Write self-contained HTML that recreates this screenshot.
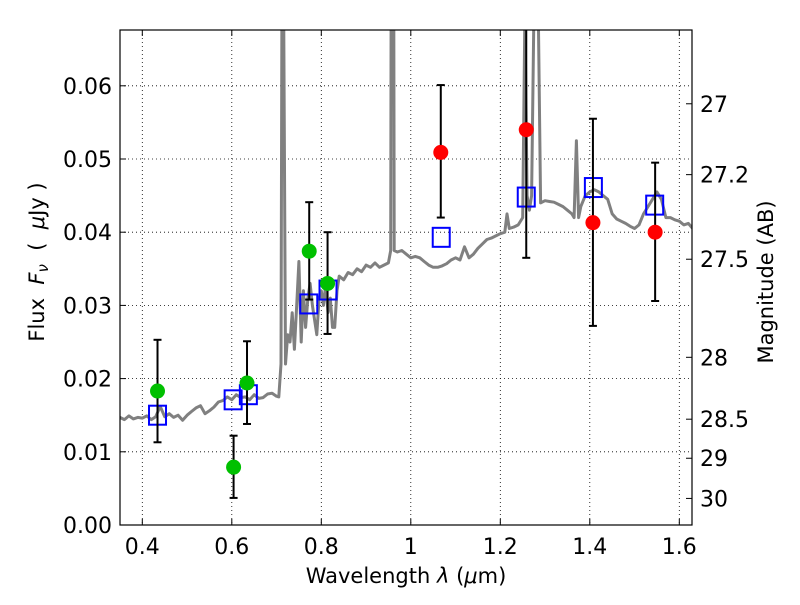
<!DOCTYPE html>
<html><head><meta charset="utf-8"><style>
body{margin:0;background:#fff;}
svg text{font-family:"DejaVu Sans","Liberation Sans",sans-serif;}
</style></head><body>
<svg id="chart" width="800" height="600" viewBox="0 0 800 600" xmlns="http://www.w3.org/2000/svg">
<defs><clipPath id="clip"><rect x="120" y="30" width="572" height="495"/></clipPath></defs>
<rect width="800" height="600" fill="#fff"/>
<g id="grid"></g>
<g id="spec" clip-path="url(#clip)"></g>
<g id="marks" clip-path="url(#clip)"></g>
<rect x="120" y="30" width="572" height="495" fill="none" stroke="#000" stroke-width="1.2"/>
<g id="axes"></g>
<text x="406" y="583" font-size="21" text-anchor="middle">Wavelength  <tspan font-style="italic">λ</tspan> (<tspan font-style="italic">μ</tspan>m)</text>
<text transform="translate(44,262) rotate(-90)" font-size="21" text-anchor="middle" xml:space="preserve">Flux  <tspan font-style="italic">F<tspan font-size="15" dy="4">ν</tspan></tspan><tspan dy="-4">  (  </tspan><tspan font-style="italic">μ</tspan>Jy )</text>
<text transform="translate(773,282) rotate(-90)" font-size="21" text-anchor="middle">Magnitude (AB)</text>
</svg>
<script>
const xTicks=[0.4,0.6,0.8,1.0,1.2,1.4,1.6];
const xTickLabels=["0.4","0.6","0.8","1","1.2","1.4","1.6"];
const yTicks=[0,0.01,0.02,0.03,0.04,0.05,0.06];
const yTickLabels=["0.00","0.01","0.02","0.03","0.04","0.05","0.06"];
const magTicks=[27,27.2,27.5,28,28.5,29,30];
const magTickLabels=["27","27.2","27.5","28","28.5","29","30"];
const greenX=[0.434,0.604,0.634,0.773,0.814];
const greenY=[0.0183,0.0079,0.0194,0.0374,0.0330];
const greenHi=[0.0253,0.0122,0.0251,0.0441,0.0400];
const greenLo=[0.0113,0.0037,0.0138,0.0308,0.0261];
const redX=[1.067,1.258,1.407,1.546];
const redY=[0.0509,0.0540,0.0413,0.0400];
const redHi=[0.0601,0.0700,0.0555,0.0495];
const redLo=[0.0420,0.0365,0.0272,0.0306];
const modelX=[0.434,0.603,0.637,0.772,0.815,1.068,1.258,1.408,1.545];
const modelY=[0.0150,0.0171,0.0178,0.0302,0.0321,0.0393,0.0448,0.0461,0.0437];
const specX=[0.35,0.36,0.37,0.38,0.39,0.40,0.41,0.42,0.43,0.44,0.45,0.46,0.47,0.48,0.49,0.50,0.51,0.52,0.53,0.54,0.55,0.56,0.57,0.58,0.59,0.60,0.61,0.62,0.63,0.64,0.65,0.66,0.67,0.68,0.69,0.70,0.705,0.71,0.712,0.716,0.72,0.725,0.73,0.735,0.74,0.745,0.75,0.755,0.76,0.765,0.77,0.775,0.78,0.785,0.79,0.795,0.80,0.805,0.81,0.815,0.82,0.825,0.83,0.835,0.84,0.85,0.86,0.87,0.88,0.89,0.90,0.91,0.92,0.93,0.94,0.95,0.955,0.956,0.962,0.963,0.97,0.98,0.99,1.0,1.01,1.02,1.03,1.04,1.05,1.06,1.07,1.08,1.09,1.10,1.11,1.12,1.13,1.14,1.15,1.16,1.17,1.18,1.19,1.20,1.21,1.215,1.22,1.23,1.24,1.25,1.255,1.26,1.265,1.27,1.275,1.285,1.29,1.30,1.31,1.32,1.33,1.34,1.35,1.36,1.365,1.37,1.375,1.38,1.39,1.40,1.41,1.42,1.43,1.44,1.45,1.46,1.47,1.48,1.49,1.50,1.51,1.52,1.53,1.54,1.55,1.56,1.57,1.58,1.59,1.60,1.61,1.62,1.63];
const specY=[0.0147,0.0144,0.0149,0.0145,0.0147,0.0146,0.0149,0.0144,0.0148,0.0162,0.0148,0.0152,0.0147,0.0150,0.0143,0.0150,0.0155,0.0160,0.0163,0.0152,0.0156,0.0161,0.0168,0.0170,0.0175,0.0171,0.0178,0.0174,0.0175,0.0171,0.0178,0.0173,0.0174,0.0179,0.0180,0.0176,0.0175,0.022,0.07,0.07,0.022,0.026,0.025,0.029,0.024,0.030,0.036,0.025,0.032,0.027,0.031,0.033,0.030,0.028,0.026,0.031,0.032,0.030,0.033,0.029,0.031,0.027,0.027,0.032,0.034,0.0335,0.0345,0.0342,0.035,0.0346,0.0355,0.0352,0.0358,0.0352,0.0355,0.0358,0.0375,0.07,0.07,0.0375,0.0373,0.0375,0.037,0.0365,0.0367,0.0365,0.036,0.0355,0.0352,0.0352,0.0354,0.0357,0.0362,0.0365,0.0362,0.038,0.0365,0.037,0.0378,0.0384,0.039,0.0392,0.0395,0.0398,0.040,0.0425,0.0405,0.0407,0.041,0.042,0.07,0.045,0.043,0.045,0.07,0.07,0.044,0.0443,0.0442,0.0441,0.0438,0.0435,0.043,0.0425,0.042,0.0525,0.042,0.0435,0.045,0.0455,0.0458,0.0455,0.045,0.0445,0.0425,0.0418,0.0415,0.0412,0.0408,0.0405,0.041,0.0425,0.0435,0.0445,0.0455,0.0445,0.042,0.042,0.0417,0.0415,0.041,0.0412,0.0405];

const NS="http://www.w3.org/2000/svg";
const X=v=>142.3+(v-0.4)*447.5;
const Y=v=>525-v*7320;
const magToFlux=m=>Math.pow(10,(23.9-m)/2.5);
function mk(tag,attrs,parent){const e=document.createElementNS(NS,tag);for(const k in attrs)e.setAttribute(k,attrs[k]);parent.appendChild(e);return e;}
const grid=document.getElementById('grid'),axes=document.getElementById('axes'),spec=document.getElementById('spec'),marks=document.getElementById('marks');
xTicks.forEach((t,i)=>{
  const x=X(t);
  const g=mk('line',{x1:x,x2:x,y1:30,y2:525,stroke:'#000','stroke-width':0.8,'stroke-dasharray':'1,3'},grid);
  
  
  mk('line',{x1:x,x2:x,y1:525,y2:519,stroke:'#000'},axes);
  mk('line',{x1:x,x2:x,y1:30,y2:36,stroke:'#000'},axes);
  const l=mk('text',{x:x,y:554,'font-size':22,'text-anchor':'middle'},axes);
  l.textContent=xTickLabels[i];
  
  
});
yTicks.forEach((t,i)=>{
  const y=Y(t);
  const g=mk('line',{x1:120,x2:692,y1:y,y2:y,stroke:'#000','stroke-width':0.8,'stroke-dasharray':'1,3'},grid);
  
  
  mk('line',{x1:120,x2:126,y1:y,y2:y,stroke:'#000'},axes);
  const l=mk('text',{x:112,y:y+8,'font-size':22,'text-anchor':'end'},axes);
  l.textContent=yTickLabels[i];
  
  
});
magTicks.forEach((m,i)=>{
  const y=Y(magToFlux(m));
  mk('line',{x1:686,x2:692,y1:y,y2:y,stroke:'#000'},axes);
  const l=mk('text',{x:700,y:y+8,'font-size':22},axes);
  l.textContent=magTickLabels[i];
  
  
});
const pts=specX.map((v,i)=>X(v).toFixed(1)+','+Y(specY[i]).toFixed(1)).join(' ');
const pl=mk('polyline',{points:pts,fill:'none',stroke:'#808080','stroke-width':3,'stroke-linejoin':'round'},spec);


function errbar(x,lo,hi){
  const px=X(x);
  const e=mk('g',{stroke:'#000','stroke-width':2},marks);
  
  
  mk('line',{x1:px,x2:px,y1:Y(lo),y2:Y(hi)},e);
  mk('line',{x1:px-4,x2:px+4,y1:Y(lo),y2:Y(lo)},e);
  mk('line',{x1:px-4,x2:px+4,y1:Y(hi),y2:Y(hi)},e);
}
modelX.forEach((v,i)=>{
  const r=mk('rect',{x:X(v)-8.5,y:Y(modelY[i])-9.5,width:17,height:19,fill:'none',stroke:'#0000ff','stroke-width':2},marks);
  
  
});
greenX.forEach((v,i)=>{
  errbar(v,greenLo[i],greenHi[i]);
  const c=mk('circle',{cx:X(v),cy:Y(greenY[i]),r:7.5,fill:'#00c000'},marks);
  
  
});
redX.forEach((v,i)=>{
  errbar(v,redLo[i],redHi[i]);
  const c=mk('circle',{cx:X(v),cy:Y(redY[i]),r:7.5,fill:'#ff0000'},marks);
  
  
});
</script>
</body></html>
